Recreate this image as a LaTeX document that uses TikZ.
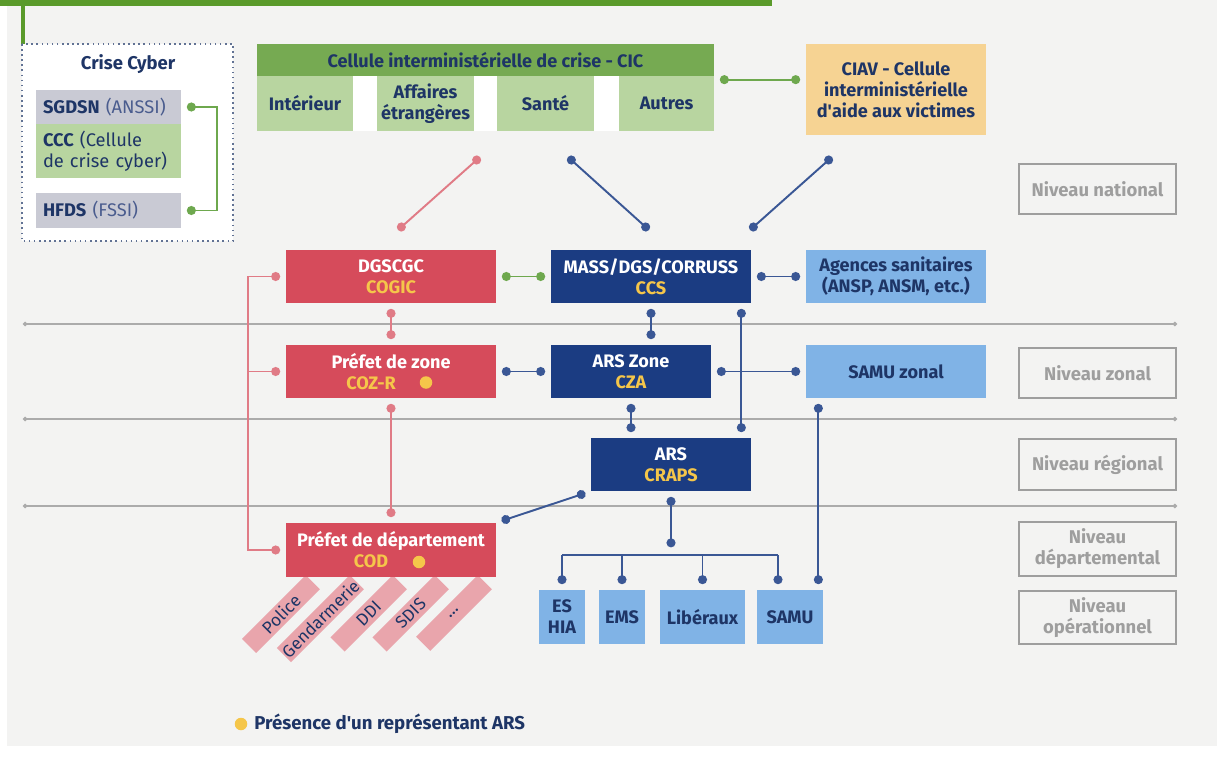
\documentclass[tikz,border=0pt]{standalone}
\usepackage{fontspec}
\setmainfont{Fira Sans}
\usetikzlibrary{arrows.meta,calc}

\definecolor{cbg}{HTML}{F3F3F2}
\definecolor{cbar}{HTML}{5A9A2B}
\definecolor{cred}{HTML}{D64B5B}
\definecolor{credl}{HTML}{E07B86}
\definecolor{cnavy}{HTML}{1B3C82}
\definecolor{cline}{HTML}{3A5795}
\definecolor{clight}{HTML}{80B3E6}
\definecolor{ctext}{HTML}{1E3566}
\definecolor{csub}{HTML}{4A5C8E}
\definecolor{cyellow}{HTML}{F5C64A}
\definecolor{cgreenh}{HTML}{76AA52}
\definecolor{cgreenl}{HTML}{B8D5A0}
\definecolor{cgreen}{HTML}{6EA84E}
\definecolor{cgrayb}{HTML}{C9CAD4}
\definecolor{cciav}{HTML}{F6D393}
\definecolor{cpink}{HTML}{E9A5AC}
\definecolor{cgray}{HTML}{9E9E9E}
\definecolor{csep}{HTML}{ABABAB}

\begin{document}
\begin{tikzpicture}[x=0.02cm, y=-0.02cm,
    box/.style={rectangle, inner sep=0pt, align=center, font=\bfseries\fontsize{10.3}{12}\selectfont},
    redbox/.style={box, fill=cred, text=white, minimum width=4.2cm, minimum height=1.06cm},
    navybox/.style={box, fill=cnavy, text=white, minimum height=1.06cm},
    lightbox/.style={box, fill=clight, text=ctext, minimum height=1.06cm},
    cicsub/.style={box, fill=cgreenl, text=ctext, minimum height=1.1cm},
    cyberbox/.style={rectangle, inner xsep=0.14cm, inner ysep=0pt, text width=2.62cm, align=left, text=ctext, font=\fontsize{10.4}{12}\selectfont},
    niveau/.style={rectangle, draw=cgray, line width=0.8pt, text=cgray, align=center, minimum width=3.14cm, inner sep=0pt, font=\bfseries\fontsize{10.5}{12}\selectfont},
    strip/.style={rectangle, rotate=45, anchor=east, fill=cpink, text=ctext, minimum height=0.4cm, inner sep=0pt, font=\fontsize{9.8}{10}\selectfont},
    ydot/.style={circle, fill=cyellow, minimum size=0.25cm, inner sep=0pt},
    link/.style={line width=1.1pt, {Circle[length=0.18cm]}-{Circle[length=0.18cm]}, shorten <=0.11cm, shorten >=0.11cm},
    redlink/.style={link, draw=credl},
    navylink/.style={link, draw=cline},
    greenlink/.style={link, draw=cgreen},
    sep/.style={draw=csep, line width=0.8pt, {Circle[length=2.5pt]}-{Circle[length=2.5pt]}}]

    \useasboundingbox (0,0) rectangle (1217,757);

    % Background
    \fill[white] (0,0) rectangle (1217,757);
    \fill[cbg] (7,0) rectangle (1217,746);
    \fill[cbar] (0,0) rectangle (772,6);
    \draw[cbar, line width=2.2pt] (23,0) -- (23,44);

    % Level separators
    \foreach \y in {324,419,506}
        \draw[sep] (23,\y) -- (1177,\y);

    % Crise Cyber
    \draw[ctext!70, dotted, line width=0.9pt, fill=white] (22,44) rectangle (233,241);
    \node[box, text=ctext, font=\bfseries\fontsize{10.5}{12}\selectfont] (cyber) at (128,64) {Crise Cyber};
    \node[cyberbox, fill=cgrayb, minimum height=0.68cm] (sgdsn) at (108.5,107) {\textbf{SGDSN} \textcolor{csub}{(ANSSI)}};
    \node[cyberbox, fill=cgreenl, minimum height=1.08cm] (ccc) at (108.5,151) {\textbf{CCC} (Cellule\\de crise cyber)};
    \node[cyberbox, fill=cgrayb, minimum height=0.7cm] (hfds) at (108.5,210.5) {\textbf{HFDS} \textcolor{csub}{(FSSI)}};

    % CIC and CIAV
    \fill[white] (257,76) rectangle (714,131);
    \node[box, fill=cgreenh, text=ctext, minimum width=9.14cm, minimum height=0.64cm] (cic) at (485.5,60) {Cellule interministérielle de crise - CIC};
    \node[cicsub, minimum width=1.92cm] (interieur) at (305,103.5) {Intérieur};
    \node[cicsub, minimum width=1.94cm] (affaires) at (425.5,103.5) {Affaires\\étrangères};
    \node[cicsub, minimum width=1.94cm] (sante) at (545.5,103.5) {Santé};
    \node[cicsub, minimum width=1.9cm] (autres) at (666.5,103.5) {Autres};
    \node[box, fill=cciav, text=ctext, minimum width=3.6cm, minimum height=1.82cm] (ciav) at (896,89.5) {CIAV - Cellule\\interministérielle\\d\textquotesingle aide aux victimes};

    % National level
    \node[redbox] (dgscgc) at (391,276.5) {DGSCGC\\\textcolor{cyellow}{COGIC}};
    \node[navybox, minimum width=4cm] (mass) at (651,276.5) {MASS/DGS/CORRUSS\\\textcolor{cyellow}{CCS}};
    \node[lightbox, minimum width=3.6cm] (agences) at (896,276.5) {Agences sanitaires\\(ANSP, ANSM, etc.)};

    % Zonal level
    \node[redbox] (prefzone) at (391,371.5) {Préfet de zone\\\textcolor{cyellow}{COZ-R}\hspace{2.2em}\mbox{}};
    \node[navybox, minimum width=3.2cm] (arszone) at (631,371.5) {ARS Zone\\\textcolor{cyellow}{CZA}};
    \node[lightbox, minimum width=3.6cm] (samuzonal) at (896,371.5) {SAMU zonal};

    % Regional level
    \node[navybox, minimum width=3.2cm] (craps) at (671,464.5) {ARS\\\textcolor{cyellow}{CRAPS}};

    % Departmental level
    \foreach \x/\l/\t [count=\i] in {313/90/Police, 357/103/Gendarmerie, 400/88/DDI, 442/88/SDIS, 485/87/\ldots}
        \node[strip, minimum width=\l*0.02cm] (strip\i) at (\x,582) {\t};
    \node[redbox, minimum height=1.08cm] (prefdep) at (391,550) {Préfet de département\\\textcolor{cyellow}{COD}\hspace{2.2em}\mbox{}};
    \node[ydot] (zdot) at ($(prefzone.center)+(35,11)$) {};
    \node[ydot] (ddot) at ($(prefdep.center)+(28,12)$) {};

    % Operational level
    \node[lightbox, text=ctext, minimum width=0.92cm, minimum height=1.08cm] (eshia) at (562,617) {ES\\HIA};
    \node[lightbox, minimum width=0.92cm, minimum height=1.08cm] (ems) at (622,617) {EMS};
    \node[lightbox, minimum width=1.7cm, minimum height=1.08cm] (liberaux) at (702.5,617) {Libéraux};
    \node[lightbox, minimum width=1.32cm, minimum height=1.08cm] (samu) at (790,617) {SAMU};

    % Levels
    \node[niveau, minimum height=1cm] (nat) at (1097.5,189) {Niveau national};
    \node[niveau, minimum height=1cm] (zon) at (1097.5,373) {Niveau zonal};
    \node[niveau, minimum height=1.02cm] (reg) at (1097.5,464.5) {Niveau régional};
    \node[niveau, minimum height=1.08cm] (dep) at (1097.5,549) {Niveau\\départemental};
    \node[niveau, minimum height=1.06cm] (ope) at (1097.5,617.5) {Niveau\\opérationnel};

    % Legend
    \node[ydot] (legdot) at (241,724) {};
    \node[box, text=ctext, anchor=west, font=\bfseries\fontsize{10.6}{12}\selectfont] (legend) at (254,724) {Présence d\textquotesingle un représentant ARS};

    % Links national
    \draw[greenlink] (sgdsn.east) -- ++(36,0) |- (hfds.east);
    \coordinate (cicr) at ($(autres.north east)+(0,4)$);
    \draw[greenlink] (cicr) -- (cicr -| ciav.west);
    \coordinate (rt) at (480,157);
    \coordinate (rb) at (398,230);
    \coordinate (bt1) at (568,157);
    \coordinate (bb1) at (649,230);
    \coordinate (bt2) at (832,157);
    \coordinate (bb2) at (750,230);
    \draw[redlink, shorten <=0pt, shorten >=0pt] (rt) -- (rb);
    \draw[navylink, shorten <=0pt, shorten >=0pt] (bt1) -- (bb1);
    \draw[navylink, shorten <=0pt, shorten >=0pt] (bt2) -- (bb2);
    \draw[greenlink] (dgscgc) -- (mass);
    \draw[navylink] (mass) -- (agences);

    % Links zonal and regional
    \draw[redlink] (dgscgc) -- (prefzone);
    \draw[navylink] (mass.south) -- (mass.south |- arszone.north);
    \draw[navylink] (prefzone) -- (arszone);
    \draw[navylink] (arszone) -- (samuzonal);
    \coordinate (mr) at ($(mass.south east)+(-10,0)$);
    \draw[navylink] (mr) -- (mr |- craps.north);
    \draw[navylink] (arszone.south) -- (arszone.south |- craps.north);
    \draw[redlink] (prefzone) -- (prefdep);
    \coordinate (rl) at ($(dgscgc.west)+(-38,0)$);
    \draw[redlink] (dgscgc.west) -- (rl) |- (prefdep.west);
    \draw[redlink, -{Circle[length=0.18cm]}, shorten <=0pt] (rl |- prefzone.west) -- (prefzone.west);
    \draw[navylink] (prefdep.north east) -- (craps.south west);

    % Links operational
    \coordinate (bustop) at ($(craps.south)+(0,56)$);
    \coordinate (bus) at ($(craps.south)+(0,64)$);
    \coordinate (samutop) at ($(samu.north)+(-12,0)$);
    \coordinate (szr) at ($(samu.north east)+(-5,0)$);
    \draw[navylink, shorten >=0pt] (craps.south) -- (bustop);
    \draw[cline, line width=1.1pt] (bus -| eshia.north) -- (bus -| samutop);
    \foreach \n in {eshia.north, ems.north, liberaux.north, samutop}
        \draw[navylink, -{Circle[length=0.18cm]}, shorten <=0pt] (bus -| \n) -- (\n |- eshia.north);
    \draw[navylink] (szr |- samuzonal.south) -- (szr);
\end{tikzpicture}
\end{document}
